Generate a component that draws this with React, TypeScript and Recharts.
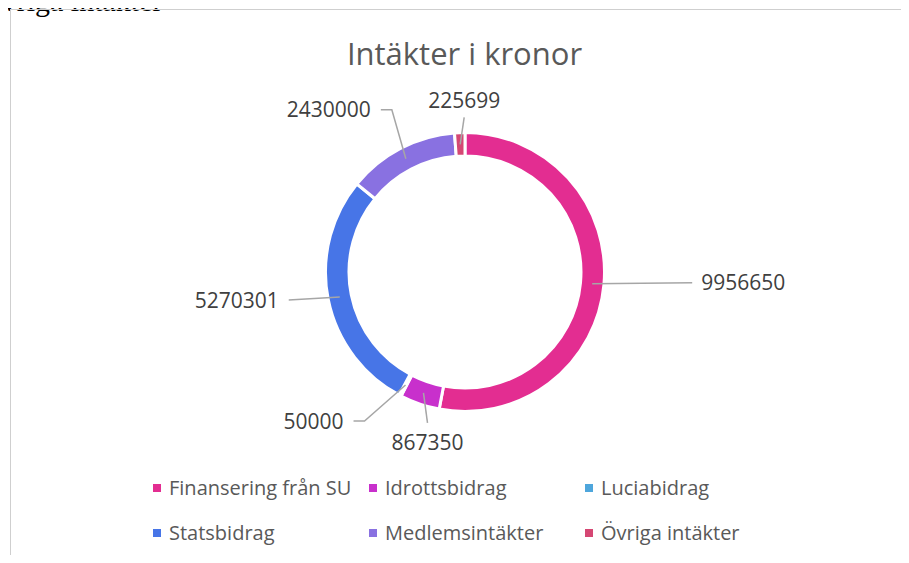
import { PieChart, Pie, Cell, Legend } from 'recharts'

/* data */
const CATEGORIES = [
  'Finansering från SU',
  'Idrottsbidrag',
  'Luciabidrag',
  'Statsbidrag',
  'Medlemsintäkter',
  'Övriga intäkter',
]
const AMOUNTS = [9956650, 867350, 50000, 5270301, 2430000, 225699]
const COLORS = ['#E32D91', '#C830CC', '#4EA6DC', '#4775E7', '#8971E1', '#D54773']

// leader line shape per slice: bend offset from ring middle, horizontal tail, where the text goes
const LEADERS: { bend: [number, number]; tail: number; place: 'start' | 'end' | 'above' | 'below' }[] = [
  { bend: [100, -1], tail: 0, place: 'start' },
  { bend: [4, 30], tail: 0, place: 'below' },
  { bend: [-41, 36], tail: -11, place: 'end' },
  { bend: [-51, 3], tail: 0, place: 'end' },
  { bend: [-14, -49], tail: -11, place: 'end' },
  { bend: [4, -27], tail: 0, place: 'above' },
]

const data = CATEGORIES.map((name, i) => ({ name, value: AMOUNTS[i] }))

const FONT = '"Open Sans", "Noto Sans", sans-serif'
const RAD = Math.PI / 180

function renderLabel(props: any) {
  const { cx, cy, midAngle, innerRadius, outerRadius, index, value } = props
  const r = (innerRadius + outerRadius) / 2
  const x0 = cx + r * Math.cos(-midAngle * RAD)
  const y0 = cy + r * Math.sin(-midAngle * RAD)
  const L = LEADERS[index]
  const x1 = x0 + L.bend[0]
  const y1 = y0 + L.bend[1]
  const x2 = x1 + L.tail
  let tx = x2
  let ty = y1
  let anchor: 'start' | 'end' | 'middle' = 'middle'
  if (L.place === 'start') { tx = x2 + 9; anchor = 'start' }
  if (L.place === 'end') { tx = x2 - 10; anchor = 'end' }
  if (L.place === 'below') ty = y1 + 20
  if (L.place === 'above') ty = y1 - 17
  return (
    <g key={'lbl' + index}>
      <polyline
        points={`${x0},${y0} ${x1},${y1} ${x2},${y1}`}
        fill="none"
        stroke="#a6a6a6"
        strokeWidth={1.5}
      />
      <text
        x={tx}
        y={ty}
        dy=".36em"
        textAnchor={anchor}
        fill="#404040"
        style={{ fontFamily: FONT, fontSize: 21 }}
      >
        {value}
      </text>
    </g>
  )
}

function LegendGrid(props: any) {
  const items = [...(props.payload || [])].sort(
    (a: any, b: any) => CATEGORIES.indexOf(a.value) - CATEGORIES.indexOf(b.value)
  )
  return (
    <div
      style={{
        display: 'grid',
        gridTemplateColumns: 'repeat(3, 216px)',
        gridAutoRows: '45px',
        fontFamily: FONT,
        fontSize: 20,
        color: '#595959',
      }}
    >
      {items.map((it: any) => (
        <div key={it.value} style={{ display: 'flex', alignItems: 'center', lineHeight: '24px' }}>
          <span style={{ width: 8, height: 8, background: it.color, marginRight: 8, flex: 'none' }} />
          <span style={{ whiteSpace: 'nowrap' }}>{it.value}</span>
        </div>
      ))}
    </div>
  )
}

export default function App() {
  return (
    <div
      style={{
        position: 'relative',
        width: 909,
        height: 563,
        margin: -8,
        overflow: 'hidden',
        background: '#fff',
      }}
    >
      {/* heading above the chart, mostly scrolled out of view */}
      <svg width={909} height={40} style={{ position: 'absolute', left: 0, top: 0 }}>
        <text x={-20} y={11} fill="#000" style={{ fontFamily: '"Liberation Serif", serif', fontSize: 30 }}>
          Övriga intäkter
        </text>
      </svg>

      <div
        style={{
          position: 'absolute',
          left: 10,
          top: 9,
          width: 1000,
          height: 1000,
          borderLeft: '1px solid #cfcfcf',
          borderTop: '1px solid #cfcfcf',
        }}
      />

      <div
        style={{
          position: 'absolute',
          left: 0,
          width: 929,
          top: 37.5,
          textAlign: 'center',
          fontFamily: FONT,
          fontSize: 31,
          lineHeight: '31px',
          color: '#595959',
        }}
      >
        Intäkter i kronor
      </div>

      <div style={{ position: 'absolute', left: 0, top: 0 }}>
        <PieChart width={909} height={563} margin={{ top: 0, right: 0, bottom: 0, left: 0 }}>
          <Pie
            data={data}
            dataKey="value"
            nameKey="name"
            cx={465}
            cy={272}
            innerRadius={116}
            outerRadius={139.5}
            startAngle={90}
            endAngle={-270}
            stroke="#ffffff"
            strokeWidth={3}
            label={renderLabel}
            labelLine={false}
            isAnimationActive={false}
          >
            {data.map((d, i) => (
              <Cell key={d.name} fill={COLORS[i]} />
            ))}
          </Pie>
          <Legend
            content={<LegendGrid />}
            wrapperStyle={{ position: 'absolute', left: 153, top: 465.5, width: 660 }}
          />
        </PieChart>
      </div>
    </div>
  )
}
